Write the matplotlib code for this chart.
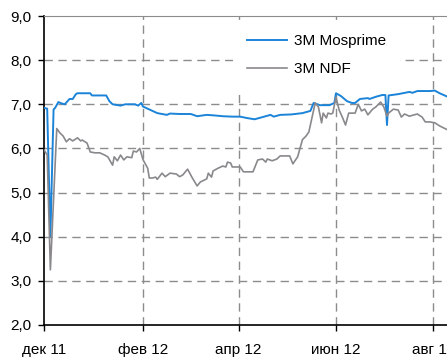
import numpy as np
import matplotlib
matplotlib.use("Agg")
import matplotlib.pyplot as plt
import matplotlib.dates as mdates
from matplotlib.ticker import FixedLocator, FuncFormatter

plt.rcParams["font.family"] = ["Liberation Sans", "DejaVu Sans"]

# days counted from 1 Dec 2011
start = np.datetime64("2011-12-01")

mosprime_days = [0, 2, 4, 6, 7, 9, 11, 13, 16, 18, 20, 21, 29, 30, 39, 41, 43, 48, 51, 57,
                 59, 61, 62, 65, 68, 71, 77, 79, 85, 92, 96, 102, 106, 112, 118, 123, 127,
                 132, 135, 142, 144, 148, 155, 162, 167, 169, 173, 179, 182, 183, 186, 190,
                 193, 195, 198, 203, 204, 208, 212, 214, 215, 216, 222, 229, 231, 234, 242,
                 245, 248, 253]
mosprime = [6.92, 6.90, 4.00, 6.88, 6.92, 7.05, 7.02, 7.00, 7.12, 7.12, 7.23, 7.25, 7.25,
            7.20, 7.20, 7.07, 7.00, 6.97, 7.00, 7.00, 6.97, 7.03, 6.95, 6.90, 6.85, 6.80,
            6.76, 6.79, 6.78, 6.78, 6.73, 6.76, 6.75, 6.73, 6.72, 6.72, 6.69, 6.66, 6.69,
            6.76, 6.72, 6.76, 6.77, 6.80, 6.85, 7.03, 6.98, 6.98, 7.03, 7.25, 7.19, 7.07,
            7.03, 7.03, 7.12, 7.14, 7.12, 7.17, 7.21, 7.21, 6.53, 7.20, 7.23, 7.28, 7.26,
            7.30, 7.30, 7.31, 7.25, 7.17]

ndf_days = [0, 2, 4, 8, 10, 12, 14, 16, 18, 21, 23, 24, 27, 29, 32, 35, 38, 40, 43, 44,
            46, 48, 50, 52, 55, 56, 58, 60, 62, 65, 66, 68, 70, 71, 74, 76, 79, 83, 85,
            87, 90, 93, 96, 98, 102, 103, 105, 106, 109, 112, 114, 115, 117, 118, 123,
            125, 131, 134, 137, 139, 140, 143, 146, 148, 154, 156, 159, 162, 164, 166,
            170, 172, 174, 175, 177, 178, 180, 181, 183, 185, 187, 189, 191, 195, 197,
            199, 201, 202, 203, 206, 208, 211, 213, 215, 216, 219, 222, 224, 226, 229,
            234, 237, 239, 242, 245, 248, 253]
ndf = [5.97, 5.85, 3.25, 6.45, 6.35, 6.28, 6.15, 6.22, 6.17, 6.24, 6.17, 6.19, 6.12, 5.92,
       5.90, 5.90, 5.85, 5.81, 5.62, 5.81, 5.72, 5.85, 5.74, 5.81, 5.79, 5.94, 5.92, 6.00,
       5.75, 5.55, 5.33, 5.33, 5.35, 5.30, 5.44, 5.36, 5.44, 5.42, 5.36, 5.40, 5.53, 5.33,
       5.15, 5.24, 5.31, 5.44, 5.35, 5.49, 5.55, 5.60, 5.58, 5.69, 5.67, 5.58, 5.58, 5.47,
       5.47, 5.74, 5.76, 5.69, 5.76, 5.72, 5.76, 5.83, 5.83, 5.65, 5.81, 6.20, 6.27, 6.37,
       7.03, 6.94, 6.58, 6.80, 6.69, 6.80, 6.78, 6.80, 7.16, 6.87, 6.71, 6.53, 6.80, 6.80,
       7.00, 6.85, 6.89, 6.83, 6.76, 6.89, 6.94, 7.05, 6.94, 6.73, 6.80, 6.89, 6.87, 6.71,
       6.78, 6.73, 6.78, 6.71, 6.60, 6.60, 6.58, 6.51, 6.42]

month_ticks = ["2011-12-01", "2012-02-01", "2012-04-01", "2012-06-01", "2012-08-01"]
month_labels = ["дек 11", "фев 12", "апр 12", "июн 12", "авг 12"]

BLUE = "#1c84d8"
GREY = "#8a888c"
GRID = "#8c8c8c"


def main():
    fig = plt.figure(figsize=(4.47, 3.60), dpi=100)
    ax = fig.add_axes([44 / 447, 35 / 360, 410 / 447, 309 / 360])

    x_mos = start + np.array(mosprime_days)
    x_ndf = start + np.array(ndf_days)
    ax.plot(x_mos, mosprime, color=BLUE, lw=1.4, label="3M Mosprime", zorder=3)
    ax.plot(x_ndf, ndf, color=GREY, lw=1.2, label="3M NDF", zorder=3)

    ax.set_xlim(start, start + 257)
    ax.set_ylim(2.0, 9.0)

    ticks = [mdates.date2num(np.datetime64(t)) for t in month_ticks]
    ax.xaxis.set_major_locator(FixedLocator(ticks))
    ax.set_xticklabels(month_labels)
    ax.set_yticks(np.arange(2, 9.5, 1.0))
    ax.yaxis.set_major_formatter(FuncFormatter(lambda v, _: ("%.1f" % v).replace(".", ",")))
    ax.tick_params(labelsize=11, colors="black", length=4, width=1, direction="out")
    ax.tick_params(axis="x", pad=9)
    ax.tick_params(axis="y", pad=5)

    # dashed grid, skipping the lines that coincide with the spines
    for t in ticks[1:]:
        ax.axvline(t, color=GRID, lw=1, dashes=(6, 4), zorder=1)
    for v in range(3, 9):
        ax.axhline(v, color=GRID, lw=1, dashes=(6, 4), zorder=1)

    ax.spines["top"].set_color("#8c8c8c")
    ax.spines["right"].set_visible(False)
    for side in ("left", "bottom"):
        ax.spines[side].set_linewidth(1.2)

    leg = ax.legend(loc="upper left", bbox_to_anchor=(0.462, 0.985), fontsize=11,
                    frameon=True, framealpha=1, facecolor="white", edgecolor="none",
                    fancybox=False, handlelength=2.6, handletextpad=0.45,
                    labelspacing=0.9, borderaxespad=0, borderpad=0.9)
    leg.set_zorder(2)

    fig.savefig("out.png", dpi=100)


if __name__ == "__main__":
    main()
